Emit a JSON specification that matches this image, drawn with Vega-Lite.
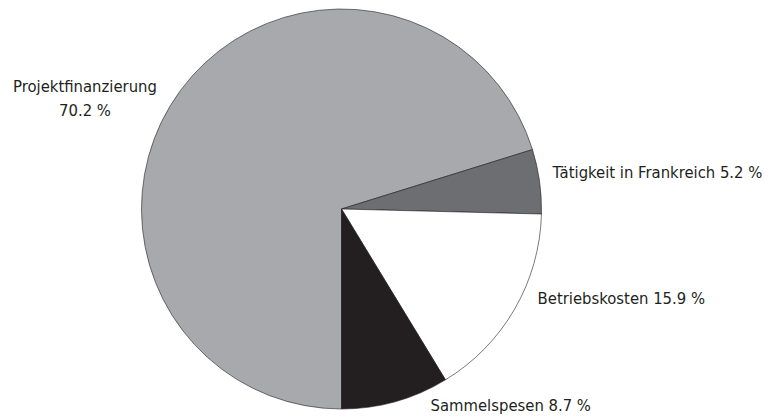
{
  "$schema": "https://vega.github.io/schema/vega-lite/v6.json",
  "autosize": "none",
  "padding": {"left": 0, "top": 0, "right": 94, "bottom": 0},
  "width": 683,
  "height": 418,
  "background": "white",
  "config": {"view": {"stroke": null}, "text": {"font": "DejaVu Sans Condensed, Liberation Sans Narrow, sans-serif"}},
  "data": {"values": [
    {"cat": "Projektfinanzierung", "value": 70.2, "order": 1, "label": "Projektfinanzierung\n70.2 %"},
    {"cat": "Tätigkeit in Frankreich", "value": 5.2, "order": 2, "label": "Tätigkeit in Frankreich 5.2 %"},
    {"cat": "Betriebskosten", "value": 15.9, "order": 3, "label": "Betriebskosten 15.9 %"},
    {"cat": "Sammelspesen", "value": 8.7, "order": 4, "label": "Sammelspesen 8.7 %"}
  ]},
  "encoding": {
    "theta": {"field": "value", "type": "quantitative", "stack": true, "scale": {"domain": [0, 100], "range": [3.14159265, 9.42477796]}},
    "order": {"field": "order", "type": "quantitative", "sort": "ascending"}
  },
  "layer": [
    {
      "mark": {"type": "arc", "radius": 200, "stroke": "#231f20", "strokeWidth": 0.6},
      "encoding": {
        "color": {"field": "cat", "type": "nominal", "legend": null,
          "scale": {"domain": ["Projektfinanzierung", "Tätigkeit in Frankreich", "Betriebskosten", "Sammelspesen"],
                    "range": ["#a7a9ac", "#6d6e71", "#ffffff", "#231f20"]}}
      }
    },
    {
      "mark": {"type": "text", "radius": 280, "align": "center", "baseline": "middle", "lineBreak": "\n", "fontSize": 16.5, "lineHeight": 23.5, "fill": "#231f20", "dx": -31, "dy": 44},
      "encoding": {"text": {"condition": {"test": "datum.cat === 'Projektfinanzierung'", "field": "label"}, "value": ""}}
    },
    {
      "mark": {"type": "text", "radius": 215, "align": "left", "baseline": "middle", "fontSize": 16.5, "fill": "#231f20", "dx": -2, "dy": -6},
      "encoding": {"text": {"condition": {"test": "datum.cat === 'Tätigkeit in Frankreich'", "field": "label"}, "value": ""}}
    },
    {
      "mark": {"type": "text", "radius": 215, "align": "left", "baseline": "middle", "fontSize": 16.5, "fill": "#231f20", "dx": 10, "dy": -18},
      "encoding": {"text": {"condition": {"test": "datum.cat === 'Betriebskosten'", "field": "label"}, "value": ""}}
    },
    {
      "mark": {"type": "text", "radius": 215, "align": "left", "baseline": "middle", "fontSize": 16.5, "fill": "#231f20", "dx": 31, "dy": -10},
      "encoding": {"text": {"condition": {"test": "datum.cat === 'Sammelspesen'", "field": "label"}, "value": ""}}
    }
  ]
}
